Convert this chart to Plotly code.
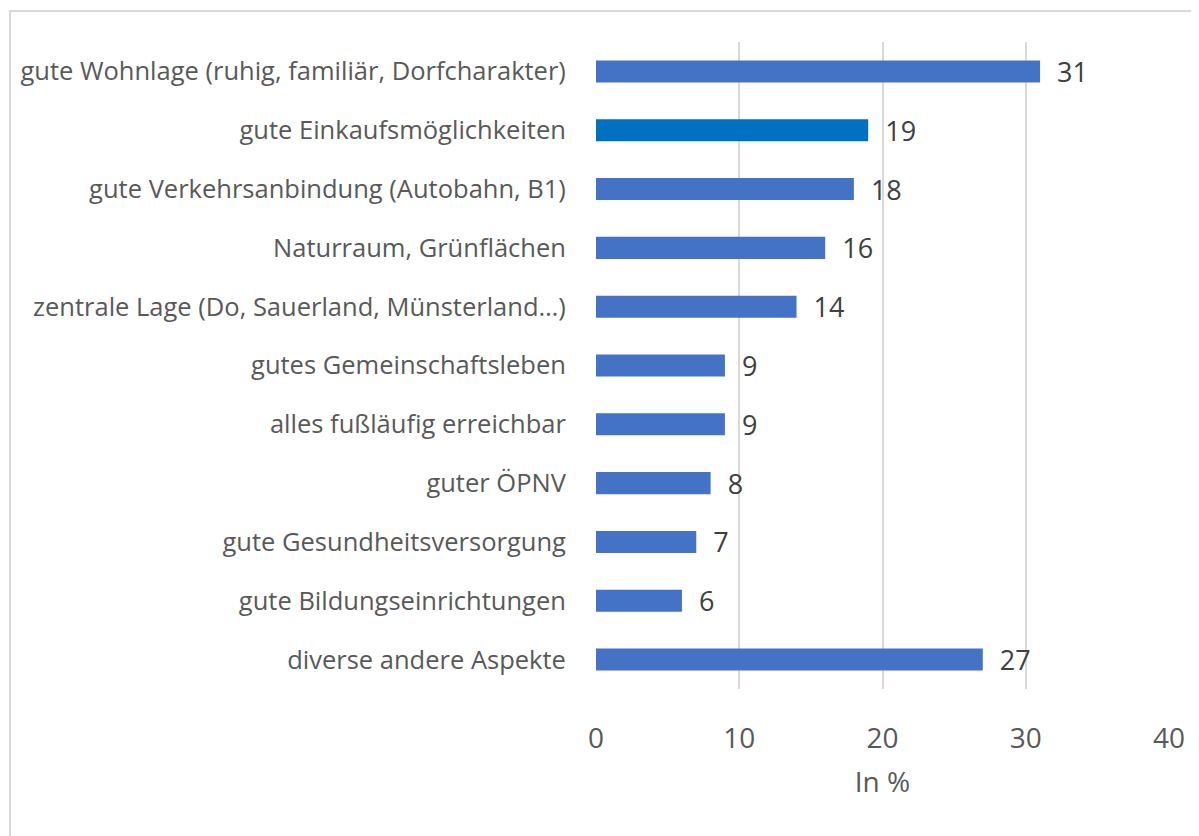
import plotly.graph_objects as go

categories = [
    "gute Wohnlage (ruhig, familiär, Dorfcharakter)",
    "gute Einkaufsmöglichkeiten",
    "gute Verkehrsanbindung (Autobahn, B1)",
    "Naturraum, Grünflächen",
    "zentrale Lage (Do, Sauerland, Münsterland…)",
    "gutes Gemeinschaftsleben",
    "alles fußläufig erreichbar",
    "guter ÖPNV",
    "gute Gesundheitsversorgung",
    "gute Bildungseinrichtungen",
    "diverse andere Aspekte",
]
values = [31, 19, 18, 16, 14, 9, 9, 8, 7, 6, 27]
bar_colors = ["#4472C4", "#0070C0"] + ["#4472C4"] * 9
x_ticks = [0, 10, 20, 30, 40]
x_title = "In %"

FONT = "Open Sans"

# page body has an 8px margin, so the figure is sized/offset accordingly
W, H = 1191, 828
L, T, PW, PH = 588, 34, 573, 647

fig = go.Figure(go.Bar(
    y=categories,
    x=values,
    orientation="h",
    marker=dict(color=bar_colors, line=dict(width=0)),
    width=0.375,
    text=["\u00a0\u00a0" + str(v) for v in values],
    textposition="outside",
    constraintext="none",
    textfont=dict(family=FONT, size=27, color="#404040"),
    cliponaxis=False,
))

fig.update_layout(
    width=W, height=H,
    margin=dict(l=L, r=W - L - PW, t=T, b=H - T - PH, autoexpand=False),
    paper_bgcolor="white", plot_bgcolor="white",
    showlegend=False,
    font=dict(family=FONT, color="#595959"),
    xaxis=dict(
        range=[0, 40], tickvals=x_ticks, showgrid=True, gridcolor="#D9D9D9", gridwidth=2,
        zeroline=False, showline=False, automargin=False,
        tickfont=dict(family=FONT, size=28, color="#595959"),
        ticks="outside", ticklen=24, tickcolor="rgba(0,0,0,0)",
        title=dict(text=x_title, font=dict(family=FONT, size=28, color="#595959"), standoff=17),
    ),
    yaxis=dict(
        autorange="reversed", showgrid=False, zeroline=False, showline=False, automargin=False,
        tickfont=dict(family=FONT, size=25.5, color="#595959"),
        ticks="outside", ticklen=24, tickcolor="rgba(0,0,0,0)",
    ),
    shapes=[dict(
        type="rect", xref="paper", yref="paper",
        x0=(2 - L) / PW, x1=1.2, y0=-0.5, y1=1 + (T - 3) / PH,
        line=dict(color="#D9D9D9", width=2), fillcolor="rgba(0,0,0,0)", layer="below",
    )],
)

fig.write_html("out.html")
